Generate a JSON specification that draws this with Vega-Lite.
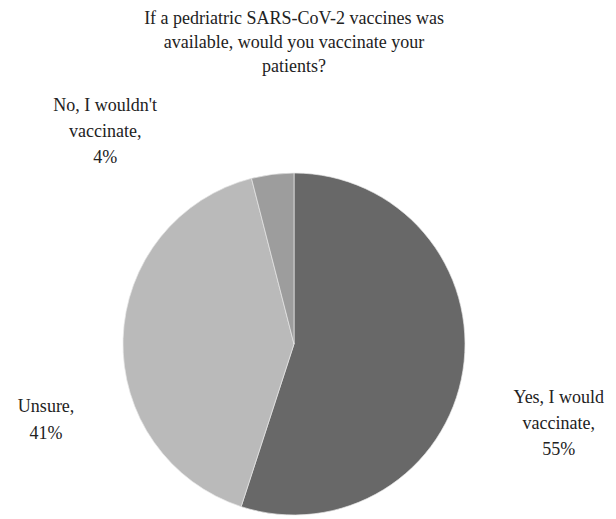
{
  "$schema": "https://vega.github.io/schema/vega-lite/v6.json",
  "autosize": "none",
  "padding": {"left": 0, "top": 90, "right": 28, "bottom": 0},
  "width": 588,
  "height": 508,
  "background": "white",
  "config": {"view": {"stroke": null}, "font": "Liberation Serif"},
  "title": {
    "text": ["If a pedriatric SARS-CoV-2 vaccines was", "available, would you vaccinate your", "patients?"],
    "font": "Liberation Serif",
    "fontSize": 18,
    "fontWeight": "normal",
    "color": "#222222",
    "lineHeight": 24,
    "anchor": "middle",
    "offset": 14
  },
  "data": {
    "values": [
      {"answer": "Yes, I would vaccinate", "percent": 55, "label": "Yes, I would\nvaccinate,\n55%", "order": 1},
      {"answer": "Unsure", "percent": 41, "label": "Unsure,\n41%", "order": 2},
      {"answer": "No, I wouldn't vaccinate", "percent": 4, "label": "No, I wouldn't\nvaccinate,\n4%", "order": 3}
    ]
  },
  "transform": [
    {"stack": "percent", "groupby": [], "sort": [{"field": "order", "order": "ascending"}], "as": ["t0", "t1"]},
    {"calculate": "(datum.t0 + datum.t1) / 2", "as": "mid"}
  ],
  "layer": [
    {
      "mark": {"type": "arc", "outerRadius": 171, "stroke": "#e6e6e6", "strokeWidth": 0.7},
      "encoding": {
        "theta": {"field": "t0", "type": "quantitative", "scale": {"domain": [0, 100]}},
        "theta2": {"field": "t1"},
        "color": {
          "field": "answer",
          "type": "nominal",
          "scale": {
            "domain": ["Yes, I would vaccinate", "Unsure", "No, I wouldn't vaccinate"],
            "range": ["#686868", "#bababa", "#9d9d9d"]
          },
          "legend": null
        }
      }
    },
    {
      "transform": [{"filter": "datum.order == 1"}],
      "mark": {"type": "text", "radius": 262, "dx": 6, "dy": 13, "lineBreak": "\n", "lineHeight": 26, "fontSize": 18, "color": "#222222", "align": "center", "baseline": "middle"},
      "encoding": {
        "theta": {"field": "mid", "type": "quantitative", "scale": {"domain": [0, 100]}},
        "text": {"field": "label"}
      }
    },
    {
      "transform": [{"filter": "datum.order == 2"}],
      "mark": {"type": "text", "radius": 248, "dy": 71, "lineBreak": "\n", "lineHeight": 27, "fontSize": 18, "color": "#222222", "align": "center", "baseline": "middle"},
      "encoding": {
        "theta": {"field": "mid", "type": "quantitative", "scale": {"domain": [0, 100]}},
        "text": {"field": "label"}
      }
    },
    {
      "transform": [{"filter": "datum.order == 3"}],
      "mark": {"type": "text", "radius": 214, "dx": -162, "dy": -26, "lineBreak": "\n", "lineHeight": 26, "fontSize": 18, "color": "#222222", "align": "center", "baseline": "middle"},
      "encoding": {
        "theta": {"field": "mid", "type": "quantitative", "scale": {"domain": [0, 100]}},
        "text": {"field": "label"}
      }
    }
  ]
}
